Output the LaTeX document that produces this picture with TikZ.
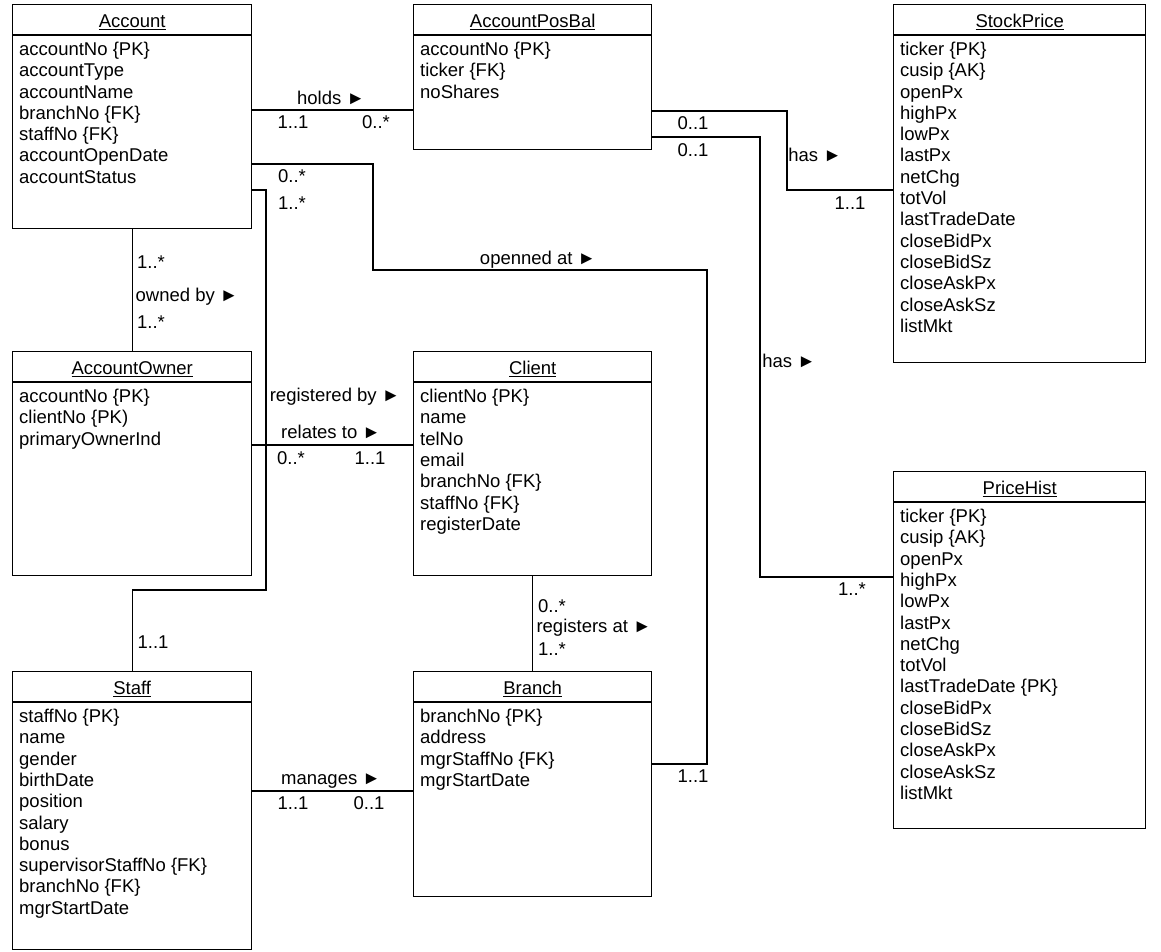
\documentclass[tikz,border=0pt]{standalone}
\usepackage{fontspec}
\setmainfont{Liberation Sans}
\usepackage{tikz}

\tikzset{
  classbox/.style={draw, anchor=north west, inner sep=0pt, line width=1.4pt},
  classline/.style={line width=1.4pt},
  classtitle/.style={anchor=base, inner sep=0pt},
  classattr/.style={anchor=base west, inner sep=0pt},
  assoc/.style={line width=1.2pt},
  lbl/.style={anchor=base, inner sep=0pt}
}

% name, x, y, width, height, title, attributes
\newcommand{\umlclass}[7]{%
  \node[classbox, minimum width=#4pt, minimum height=#5pt] (#1) at (#2,#3) {};
  \draw[classline] ([yshift=-31pt]#1.north west) -- ([yshift=-31pt]#1.north east);
  \node[classtitle] (#1-title) at ([yshift=-23.5pt]#1.north) {\underline{#6}};
  \foreach \attr [count=\i] in {#7}
    \node[classattr] (#1-\i) at ([xshift=7pt, yshift={-51.5pt-(\i-1)*21.3pt}]#1.north west) {\attr};
}

\begin{document}
\begin{tikzpicture}[x=1pt, y=-1pt, font=\fontsize{18.5}{21.3}\selectfont]

\useasboundingbox (0,0) rectangle (1161,952);

\umlclass{account}{12}{4}{239}{224}{Account}{accountNo \{PK\}, accountType, accountName, branchNo \{FK\}, staffNo \{FK\}, accountOpenDate, accountStatus}
\umlclass{accpos}{413}{4}{238}{145}{AccountPosBal}{accountNo \{PK\}, ticker \{FK\}, noShares}
\umlclass{stock}{893}{4}{252}{358}{StockPrice}{ticker \{PK\}, cusip \{AK\}, openPx, highPx, lowPx, lastPx, netChg, totVol, lastTradeDate, closeBidPx, closeBidSz, closeAskPx, closeAskSz, listMkt}
\umlclass{owner}{12}{351}{239}{224}{AccountOwner}{accountNo \{PK\}, clientNo \{PK), primaryOwnerInd}
\umlclass{client}{413}{351}{238}{224}{Client}{clientNo \{PK\}, name, telNo, email, branchNo \{FK\}, staffNo \{FK\}, registerDate}
\umlclass{hist}{893}{471}{252}{357}{PriceHist}{ticker \{PK\}, cusip \{AK\}, openPx, highPx, lowPx, lastPx, netChg, totVol, lastTradeDate \{PK\}, closeBidPx, closeBidSz, closeAskPx, closeAskSz, listMkt}
\umlclass{staff}{12}{671}{239}{278}{Staff}{staffNo \{PK\}, name, gender, birthDate, position, salary, bonus, supervisorStaffNo \{FK\}, branchNo \{FK\}, mgrStartDate}
\umlclass{branch}{413}{671}{238}{225}{Branch}{branchNo \{PK\}, address, mgrStaffNo \{FK\}, mgrStartDate}

% associations
\draw[assoc] (account.east |- 0,110) -- (accpos.west |- 0,110);
\draw[assoc] (account.east |- 0,164) -| (373,270) -| (707,764) -- (branch.east |- 0,764);
\draw[assoc] (account.east |- 0,190) -| (266,590) -| (staff.north);
\draw[assoc] (account.south) -- (owner.north);
\draw[assoc] (owner.east |- 0,445) -- (client.west |- 0,445);
\draw[assoc] (client.south) -- (branch.north);
\draw[assoc] (staff.east |- 0,791) -- (branch.west |- 0,791);
\draw[assoc] (accpos.east |- 0,111) -| (787,190) -- (stock.west |- 0,190);
\draw[assoc] (accpos.east |- 0,137) -| (760,577) -- (hist.west |- 0,577);

% labels
\node[lbl] (holdsLbl) at (331,104.5) {holds ►};
\node[lbl] (holdsA) at (293,128.5) {1..1};
\node[lbl] (holdsB) at (376,128.5) {0..*};

\node[lbl] (openA) at (292,182.5) {0..*};
\node[lbl] (openLbl) at (538,264.5) {openned at ►};
\node[lbl] (openB) at (693,782.5) {1..1};

\node[lbl] (regA) at (292,209.5) {1..*};
\node[lbl] (regLbl) at (335,401.5) {registered by ►};
\node[lbl] (regB) at (153,648.5) {1..1};

\node[lbl] (ownA) at (151,268.5) {1..*};
\node[lbl] (ownLbl) at (187,301.5) {owned by ►};
\node[lbl] (ownB) at (151,328.5) {1..*};

\node[lbl] (relLbl) at (331,438.5) {relates to ►};
\node[lbl] (relA) at (291,464.5) {0..*};
\node[lbl] (relB) at (370,464.5) {1..1};

\node[lbl] (regatA) at (552,612.5) {0..*};
\node[lbl] (regatLbl) at (594,632.5) {registers at ►};
\node[lbl] (regatB) at (552,655) {1..*};

\node[lbl] (mgLbl) at (331,784.5) {manages ►};
\node[lbl] (mgA) at (293,809.5) {1..1};
\node[lbl] (mgB) at (369,809.5) {0..1};

\node[lbl] (hasA) at (693,129.5) {0..1};
\node[lbl] (hasLbl) at (815,161.5) {has ►};
\node[lbl] (hasB) at (850,209.5) {1..1};

\node[lbl] (histA) at (693,156.5) {0..1};
\node[lbl] (histLbl) at (789,367.5) {has ►};
\node[lbl] (histB) at (852,595.5) {1..*};

\end{tikzpicture}
\end{document}
